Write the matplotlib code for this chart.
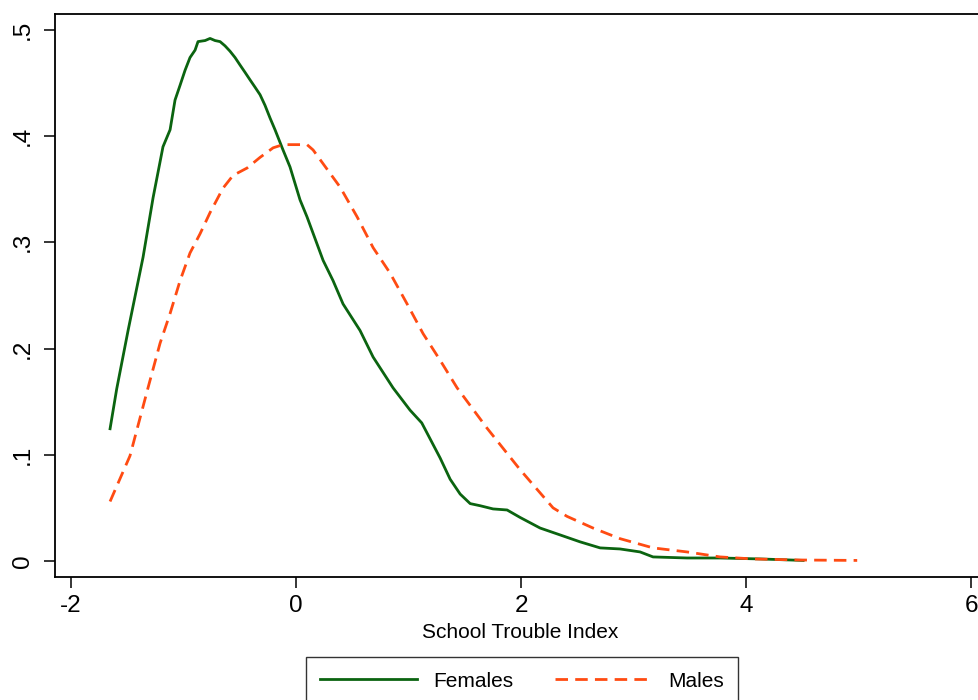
import matplotlib
matplotlib.use("Agg")
import matplotlib.pyplot as plt

plt.rcParams['font.family'] = ['Liberation Sans', 'DejaVu Sans']
plt.rcParams['axes.unicode_minus'] = False

# Kernel density of the School Trouble Index
females_x = [-1.650, -1.591, -1.490, -1.357, -1.268, -1.180, -1.117, -1.073, -1.028, -0.984,
             -0.940, -0.895, -0.869, -0.806, -0.762, -0.718, -0.673, -0.629, -0.585, -0.540,
             -0.496, -0.451, -0.407, -0.362, -0.318, -0.274, -0.229, -0.185, -0.114, -0.052,
             0.037, 0.099, 0.242, 0.330, 0.419, 0.570, 0.686, 0.863, 1.014, 1.118,
             1.281, 1.370, 1.459, 1.548, 1.637, 1.751, 1.876, 1.991, 2.169, 2.347,
             2.524, 2.702, 2.879, 3.057, 3.172, 3.474, 3.767, 4.122, 4.505]
females_y = [0.1245, 0.162, 0.217, 0.286, 0.342, 0.390, 0.406, 0.434, 0.448, 0.462,
             0.474, 0.481, 0.489, 0.490, 0.492, 0.490, 0.489, 0.485, 0.480, 0.474,
             0.467, 0.460, 0.453, 0.446, 0.439, 0.429, 0.417, 0.406, 0.387, 0.371,
             0.340, 0.324, 0.283, 0.264, 0.242, 0.217, 0.192, 0.163, 0.142, 0.130,
             0.097, 0.077, 0.063, 0.054, 0.052, 0.049, 0.048, 0.041, 0.031, 0.0245,
             0.018, 0.0123, 0.0113, 0.0085, 0.0038, 0.0028, 0.0028, 0.0019, 0.0005]

males_x = [-1.650, -1.473, -1.313, -1.206, -1.117, -1.028, -0.940, -0.851, -0.762, -0.647,
           -0.558, -0.433, -0.318, -0.202, -0.114, 0.037, 0.099, 0.153, 0.242, 0.393,
           0.544, 0.686, 0.837, 0.988, 1.130, 1.281, 1.432, 1.698, 1.991, 2.284,
           2.408, 2.639, 2.879, 3.172, 3.474, 3.767, 4.060, 4.478, 4.985]
males_y = [0.056, 0.099, 0.163, 0.205, 0.233, 0.264, 0.290, 0.308, 0.328, 0.351,
           0.363, 0.370, 0.380, 0.389, 0.392, 0.392, 0.392, 0.387, 0.374, 0.352,
           0.324, 0.295, 0.271, 0.242, 0.214, 0.189, 0.163, 0.125, 0.086, 0.050,
           0.042, 0.031, 0.021, 0.0123, 0.0085, 0.0038, 0.0019, 0.0009, 0.0005]

x_ticks = [-2, 0, 2, 4, 6]
y_ticks = [0, 0.1, 0.2, 0.3, 0.4, 0.5]
y_tick_labels = ["0", ".1", ".2", ".3", ".4", ".5"]

GREEN = '#0b6410'
ORANGE = '#ff4b12'

fig = plt.figure(figsize=(9.79, 7.0), dpi=100, facecolor='white')
# right edge of the plot region runs a little past the image, as in the reference
ax = fig.add_axes([55 / 979, 1 - 577 / 700, 930 / 979, 563 / 700])

ax.plot(females_x, females_y, color=GREEN, lw=2.0, label='Females')
ax.plot(males_x, males_y, color=ORANGE, lw=2.0, linestyle=(0, (4.5, 2.6)), label='Males')

ax.set_xlim(-2.139, 6.12)
ax.set_ylim(-0.0151, 0.515)
ax.set_xticks(x_ticks)
ax.set_yticks(y_ticks)
ax.set_yticklabels(y_tick_labels)

for s in ax.spines.values():
    s.set_linewidth(1.3)
ax.tick_params(axis='both', direction='out', length=8, width=1.1, labelsize=17.5)
ax.tick_params(axis='x', pad=5)
ax.tick_params(axis='y', labelrotation=90, pad=7)
for t in ax.get_yticklabels():
    t.set_verticalalignment('center')

ax.set_xlabel('School Trouble Index', fontsize=15, labelpad=4)

leg = fig.legend(loc='upper center', bbox_to_anchor=(522 / 979, 1 - 657 / 700),
                 ncol=2, fontsize=15, frameon=True, fancybox=False,
                 edgecolor='black', handlelength=4.66, handletextpad=0.77,
                 columnspacing=2.0, borderpad=0.7, borderaxespad=0)
leg.get_frame().set_linewidth(1.0)

fig.savefig('out.png', dpi=100, facecolor='white')
